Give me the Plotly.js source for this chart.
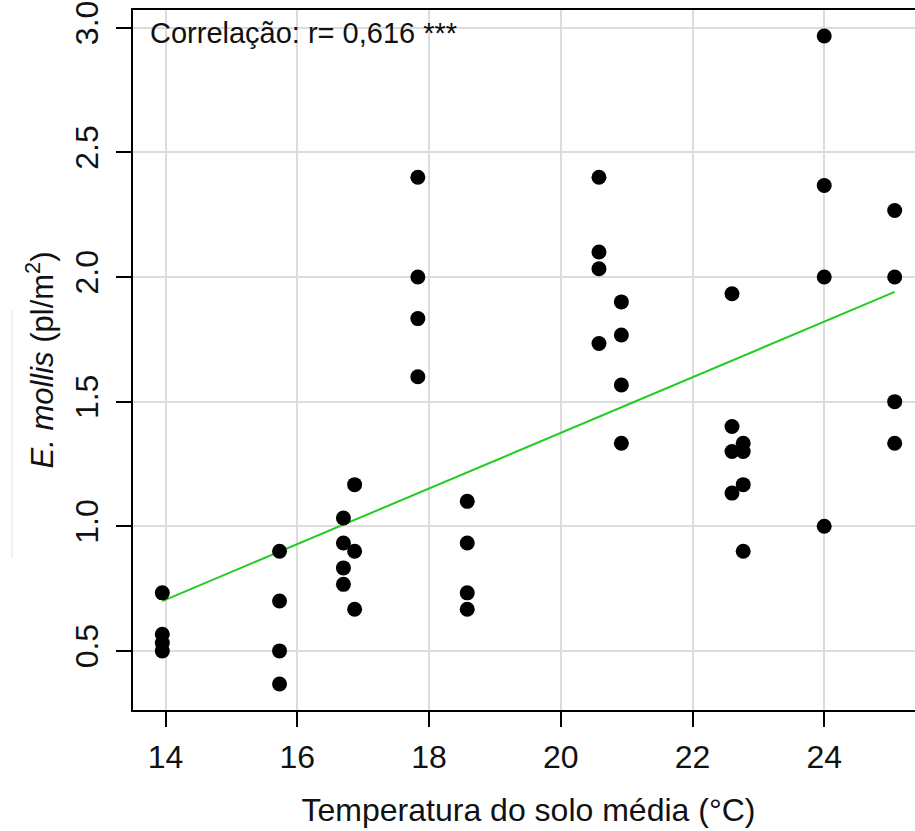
<!DOCTYPE html>
<html>
<head>
<meta charset="utf-8">
<script src="https://cdn.plot.ly/plotly-3.0.1.min.js"></script>
<style>
html,body{margin:0;padding:0;overflow:hidden;background:#fff;}
#chart{width:930px;height:831px;}
</style>
</head>
<body>
<div id="chart"></div>
<script>
// Soil temperature (°C) vs E. mollis density (pl/m²)
const temperatura = [
  13.95, 13.95, 13.95, 13.95,
  15.73, 15.73, 15.73, 15.73,
  16.70, 16.70, 16.70, 16.70,
  16.87, 16.87, 16.87,
  17.83, 17.83, 17.83, 17.83,
  18.58, 18.58, 18.58, 18.58,
  20.58, 20.58, 20.58, 20.58,
  20.92, 20.92, 20.92, 20.92,
  22.60, 22.60, 22.60, 22.60,
  22.77, 22.77, 22.77, 22.77,
  24.00, 24.00, 24.00, 24.00,
  25.07, 25.07, 25.07, 25.07
];
const densidade = [
  0.733, 0.567, 0.533, 0.500,
  0.900, 0.700, 0.500, 0.367,
  1.033, 0.933, 0.833, 0.767,
  1.167, 0.900, 0.667,
  2.400, 2.000, 1.833, 1.600,
  1.100, 0.933, 0.733, 0.667,
  2.400, 2.100, 2.033, 1.733,
  1.900, 1.767, 1.567, 1.333,
  1.933, 1.400, 1.300, 1.133,
  1.333, 1.300, 1.167, 0.900,
  2.967, 2.367, 2.000, 1.000,
  2.267, 2.000, 1.500, 1.333
];
// fitted regression line
const ajusteX = [13.95, 25.07];
const ajusteY = [0.70, 1.94];
const xTicks = [14, 16, 18, 20, 22, 24];
const yTicks = [0.5, 1.0, 1.5, 2.0, 2.5, 3.0];
const yTickLabels = ["0.5", "1.0", "1.5", "2.0", "2.5", "3.0"];
const textoCorrelacao = "Correlação: r= 0,616 ***";

const FONT = '"Liberation Sans", Arial, Helvetica, sans-serif';

const traces = [
  {
    type: 'scatter', mode: 'lines',
    x: ajusteX, y: ajusteY,
    line: {color: '#22cc22', width: 2},
    hoverinfo: 'skip', showlegend: false
  },
  {
    type: 'scatter', mode: 'markers',
    x: temperatura, y: densidade,
    marker: {color: '#000', size: 15, line: {width: 0}},
    showlegend: false
  }
];

const layout = {
  width: 930, height: 831,
  margin: {l: 133, r: 6, t: 10, b: 121},
  paper_bgcolor: '#fff', plot_bgcolor: '#fff',
  font: {family: FONT, color: '#000', size: 30},
  showlegend: false,
  xaxis: {
    range: [13.505, 25.515],
    tickvals: xTicks, ticktext: xTicks.map(String),
    ticks: 'outside', ticklen: 15, tickwidth: 2, tickcolor: '#000',
    tickfont: {family: FONT, size: 32, color: '#111'},
    ticklabelstandoff: 3,
    showgrid: true, gridcolor: '#dcdcdc', gridwidth: 2,
    zeroline: false,
    showline: true, linecolor: '#000', linewidth: 2, mirror: true,
    title: {text: 'Temperatura do solo média (°C)', font: {family: FONT, size: 32, color: '#111'}, standoff: 24}
  },
  yaxis: {
    range: [0.263, 3.071],
    tickvals: yTicks, ticktext: yTickLabels,
    tickangle: -90,
    ticks: 'outside', ticklen: 15, tickwidth: 2, tickcolor: '#000',
    tickfont: {family: FONT, size: 32, color: '#111'},
    ticklabelstandoff: 5,
    showgrid: true, gridcolor: '#dcdcdc', gridwidth: 2,
    zeroline: false,
    showline: true, linecolor: '#000', linewidth: 2, mirror: true,
    title: {text: '<i>E. mollis</i> (pl/m<sup>2</sup>)', font: {family: FONT, size: 31, color: '#111'}, standoff: 6}
  },
  shapes: [
    {type: 'rect', layer: 'between', xref: 'paper', yref: 'paper',
     x0: 4/791, x1: 337/791, y0: 1 - 40/700, y1: 1 - 6/700,
     fillcolor: '#fff', line: {width: 0}},
    {type: 'line', xref: 'paper', yref: 'paper',
     x0: -121/791, x1: -121/791, y0: 1 - 548/700, y1: 1 - 300/700,
     line: {color: '#e6e6e6', width: 1}}
  ],
  annotations: [
    {xref: 'paper', yref: 'paper', x: 0, y: 1, xanchor: 'left', yanchor: 'middle',
     xshift: 15, yshift: -23, showarrow: false,
     text: textoCorrelacao, font: {family: FONT, size: 29, color: '#111'}}
  ]
};

Plotly.newPlot('chart', traces, layout, {displayModeBar: false, staticPlot: true});
</script>
</body>
</html>
